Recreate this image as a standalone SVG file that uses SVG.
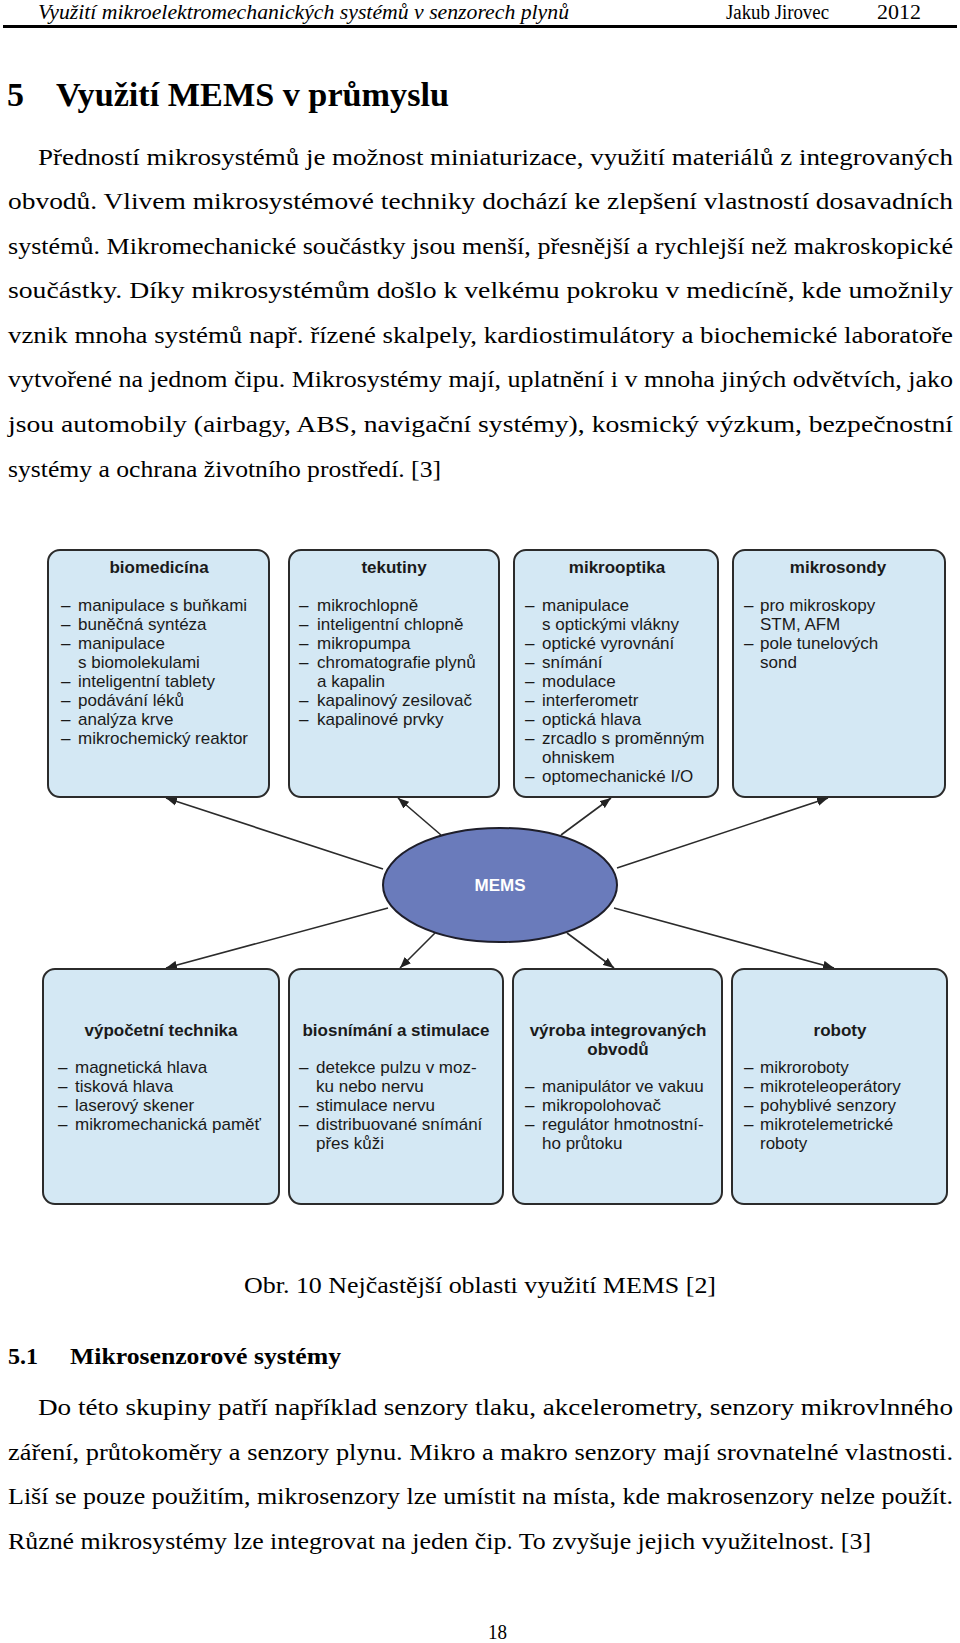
<svg xmlns="http://www.w3.org/2000/svg" width="960" height="1643" viewBox="0 0 960 1643">
<style>
.hdr{font-family:"Liberation Serif",serif;font-size:20px;fill:#000}
.hdri{font-style:italic}
.h1{font-family:"Liberation Serif",serif;font-size:34px;font-weight:bold;fill:#000}
.h2{font-family:"Liberation Serif",serif;font-size:24px;font-weight:bold;fill:#000}
.p{font-family:"Liberation Serif",serif;font-size:23.5px;fill:#000}
.box{fill:#d4e8f4;stroke:#2b2b2b;stroke-width:2}
.t{font-family:"Liberation Sans",Arial,sans-serif;font-size:17px;font-weight:bold;fill:#1a1a1a;text-anchor:middle}
.i{font-family:"Liberation Sans",Arial,sans-serif;font-size:17px;fill:#1a1a1a}
.c{stroke:#2b2b2b;stroke-width:1.6;fill:none;marker-end:url(#ah)}
</style>
<defs>
<marker id="ah" viewBox="0 0 10 8" refX="10" refY="4" markerWidth="11" markerHeight="9" orient="auto" markerUnits="userSpaceOnUse"><path d="M0,0 L10,4 L0,8 z" fill="#222"/></marker>
</defs>
<g id="page-header">
<text class="hdr hdri" x="38" y="19" textLength="531" lengthAdjust="spacingAndGlyphs">Využití mikroelektromechanických systémů v senzorech plynů</text>
<text class="hdr" x="726" y="19" textLength="103" lengthAdjust="spacingAndGlyphs">Jakub Jirovec</text>
<text class="hdr" x="877" y="19" textLength="44" lengthAdjust="spacingAndGlyphs">2012</text>
<line x1="3" y1="26.5" x2="957" y2="26.5" stroke="#000" stroke-width="3"/>
</g>
<g id="heading">
<text class="h1" x="7" y="106">5</text>
<text class="h1" x="56" y="106" textLength="393" lengthAdjust="spacingAndGlyphs">Využití MEMS v průmyslu</text>
</g>
<g id="paragraph1">
<text class="p" x="38" y="165" textLength="915" lengthAdjust="spacingAndGlyphs">Předností mikrosystémů je možnost miniaturizace, využití materiálů z integrovaných</text>
<text class="p" x="8" y="209" textLength="945" lengthAdjust="spacingAndGlyphs">obvodů. Vlivem mikrosystémové techniky dochází ke zlepšení vlastností dosavadních</text>
<text class="p" x="8" y="254" textLength="945" lengthAdjust="spacingAndGlyphs">systémů. Mikromechanické součástky jsou menší, přesnější a rychlejší než makroskopické</text>
<text class="p" x="8" y="298" textLength="945" lengthAdjust="spacingAndGlyphs">součástky. Díky mikrosystémům došlo k velkému pokroku v medicíně, kde umožnily</text>
<text class="p" x="8" y="343" textLength="945" lengthAdjust="spacingAndGlyphs">vznik mnoha systémů např. řízené skalpely, kardiostimulátory a biochemické laboratoře</text>
<text class="p" x="8" y="387" textLength="945" lengthAdjust="spacingAndGlyphs">vytvořené na jednom čipu. Mikrosystémy mají, uplatnění i v mnoha jiných odvětvích, jako</text>
<text class="p" x="8" y="432" textLength="945" lengthAdjust="spacingAndGlyphs">jsou automobily (airbagy, ABS, navigační systémy), kosmický výzkum, bezpečnostní</text>
<text class="p" x="8" y="477" textLength="433" lengthAdjust="spacingAndGlyphs">systémy a ochrana životního prostředí. [3]</text>
</g>
<g id="connectors">
<line class="c" x1="383" y1="869" x2="166" y2="798"/>
<line class="c" x1="441" y1="835" x2="398" y2="798"/>
<line class="c" x1="561" y1="835" x2="611" y2="798"/>
<line class="c" x1="617" y1="868" x2="828" y2="798"/>
<line class="c" x1="388" y1="908" x2="166" y2="968"/>
<line class="c" x1="435" y1="933" x2="400" y2="968"/>
<line class="c" x1="567" y1="933" x2="614" y2="968"/>
<line class="c" x1="614" y1="908" x2="834" y2="968"/>
</g>
<g id="mems">
<ellipse cx="500" cy="885" rx="117" ry="57" fill="#6a7bbb" stroke="#1e1e2a" stroke-width="2"/>
<text x="500" y="891" font-family="Liberation Sans, Arial, sans-serif" font-size="17" font-weight="bold" fill="#fff" text-anchor="middle">MEMS</text>
</g>
<g id="biomedicina">
<rect class="box" x="48" y="550" width="221" height="247" rx="12"/>
<text class="t" x="159" y="573">biomedicína</text>
<text class="i" x="61" y="611">–</text><text class="i" x="78" y="611">manipulace s buňkami</text>
<text class="i" x="61" y="630">–</text><text class="i" x="78" y="630">buněčná syntéza</text>
<text class="i" x="61" y="649">–</text><text class="i" x="78" y="649">manipulace</text>
<text class="i" x="78" y="668">s biomolekulami</text>
<text class="i" x="61" y="687">–</text><text class="i" x="78" y="687">inteligentní tablety</text>
<text class="i" x="61" y="706">–</text><text class="i" x="78" y="706">podávání léků</text>
<text class="i" x="61" y="725">–</text><text class="i" x="78" y="725">analýza krve</text>
<text class="i" x="61" y="744">–</text><text class="i" x="78" y="744">mikrochemický reaktor</text>
</g>
<g id="tekutiny">
<rect class="box" x="289" y="550" width="210" height="247" rx="12"/>
<text class="t" x="394" y="573">tekutiny</text>
<text class="i" x="299" y="611">–</text><text class="i" x="317" y="611">mikrochlopně</text>
<text class="i" x="299" y="630">–</text><text class="i" x="317" y="630">inteligentní chlopně</text>
<text class="i" x="299" y="649">–</text><text class="i" x="317" y="649">mikropumpa</text>
<text class="i" x="299" y="668">–</text><text class="i" x="317" y="668">chromatografie plynů</text>
<text class="i" x="317" y="687">a kapalin</text>
<text class="i" x="299" y="706">–</text><text class="i" x="317" y="706">kapalinový zesilovač</text>
<text class="i" x="299" y="725">–</text><text class="i" x="317" y="725">kapalinové prvky</text>
</g>
<g id="mikrooptika">
<rect class="box" x="514" y="550" width="204" height="247" rx="12"/>
<text class="t" x="617" y="573">mikrooptika</text>
<text class="i" x="525" y="611">–</text><text class="i" x="542" y="611">manipulace</text>
<text class="i" x="542" y="630">s optickými vlákny</text>
<text class="i" x="525" y="649">–</text><text class="i" x="542" y="649">optické vyrovnání</text>
<text class="i" x="525" y="668">–</text><text class="i" x="542" y="668">snímání</text>
<text class="i" x="525" y="687">–</text><text class="i" x="542" y="687">modulace</text>
<text class="i" x="525" y="706">–</text><text class="i" x="542" y="706">interferometr</text>
<text class="i" x="525" y="725">–</text><text class="i" x="542" y="725">optická hlava</text>
<text class="i" x="525" y="744">–</text><text class="i" x="542" y="744">zrcadlo s proměnným</text>
<text class="i" x="542" y="763">ohniskem</text>
<text class="i" x="525" y="782">–</text><text class="i" x="542" y="782">optomechanické I/O</text>
</g>
<g id="mikrosondy">
<rect class="box" x="733" y="550" width="212" height="247" rx="12"/>
<text class="t" x="838" y="573">mikrosondy</text>
<text class="i" x="744" y="611">–</text><text class="i" x="760" y="611">pro mikroskopy</text>
<text class="i" x="760" y="630">STM, AFM</text>
<text class="i" x="744" y="649">–</text><text class="i" x="760" y="649">pole tunelových</text>
<text class="i" x="760" y="668">sond</text>
</g>
<g id="vypocetni-technika">
<rect class="box" x="43" y="969" width="236" height="235" rx="12"/>
<text class="t" x="161" y="1036">výpočetní technika</text>
<text class="i" x="58" y="1073">–</text><text class="i" x="75" y="1073">magnetická hlava</text>
<text class="i" x="58" y="1092">–</text><text class="i" x="75" y="1092">tisková hlava</text>
<text class="i" x="58" y="1111">–</text><text class="i" x="75" y="1111">laserový skener</text>
<text class="i" x="58" y="1130">–</text><text class="i" x="75" y="1130">mikromechanická paměť</text>
</g>
<g id="biosnimani">
<rect class="box" x="289" y="969" width="214" height="235" rx="12"/>
<text class="t" x="396" y="1036">biosnímání a stimulace</text>
<text class="i" x="299" y="1073">–</text><text class="i" x="316" y="1073">detekce pulzu v moz-</text>
<text class="i" x="316" y="1092">ku nebo nervu</text>
<text class="i" x="299" y="1111">–</text><text class="i" x="316" y="1111">stimulace nervu</text>
<text class="i" x="299" y="1130">–</text><text class="i" x="316" y="1130">distribuované snímání</text>
<text class="i" x="316" y="1149">přes kůži</text>
</g>
<g id="vyroba-io">
<rect class="box" x="513" y="969" width="209" height="235" rx="12"/>
<text class="t" x="618" y="1036">výroba integrovaných</text>
<text class="t" x="618" y="1055">obvodů</text>
<text class="i" x="525" y="1092">–</text><text class="i" x="542" y="1092">manipulátor ve vakuu</text>
<text class="i" x="525" y="1111">–</text><text class="i" x="542" y="1111">mikropolohovač</text>
<text class="i" x="525" y="1130">–</text><text class="i" x="542" y="1130">regulátor hmotnostní-</text>
<text class="i" x="542" y="1149">ho průtoku</text>
</g>
<g id="roboty">
<rect class="box" x="732" y="969" width="215" height="235" rx="12"/>
<text class="t" x="840" y="1036">roboty</text>
<text class="i" x="744" y="1073">–</text><text class="i" x="760" y="1073">mikroroboty</text>
<text class="i" x="744" y="1092">–</text><text class="i" x="760" y="1092">mikroteleoperátory</text>
<text class="i" x="744" y="1111">–</text><text class="i" x="760" y="1111">pohyblivé senzory</text>
<text class="i" x="744" y="1130">–</text><text class="i" x="760" y="1130">mikrotelemetrické</text>
<text class="i" x="760" y="1149">roboty</text>
</g>
<g id="caption">
<text class="p" x="244" y="1293" textLength="472" lengthAdjust="spacingAndGlyphs">Obr. 10 Nejčastější oblasti využití MEMS [2]</text>
</g>
<g id="section-5-1">
<text class="h2" x="8" y="1364">5.1</text>
<text class="h2" x="70" y="1364" textLength="271" lengthAdjust="spacingAndGlyphs">Mikrosenzorové systémy</text>
</g>
<g id="paragraph2">
<text class="p" x="38" y="1415" textLength="915" lengthAdjust="spacingAndGlyphs">Do této skupiny patří například senzory tlaku, akcelerometry, senzory mikrovlnného</text>
<text class="p" x="8" y="1460" textLength="945" lengthAdjust="spacingAndGlyphs">záření, průtokoměry a senzory plynu. Mikro a makro senzory mají srovnatelné vlastnosti.</text>
<text class="p" x="8" y="1504" textLength="945" lengthAdjust="spacingAndGlyphs">Liší se pouze použitím, mikrosenzory lze umístit na místa, kde makrosenzory nelze použít.</text>
<text class="p" x="8" y="1549" textLength="863" lengthAdjust="spacingAndGlyphs">Různé mikrosystémy lze integrovat na jeden čip. To zvyšuje jejich využitelnost. [3]</text>
</g>
<g id="page-number">
<text class="hdr" x="488" y="1639" textLength="19" lengthAdjust="spacingAndGlyphs">18</text>
</g>
</svg>
